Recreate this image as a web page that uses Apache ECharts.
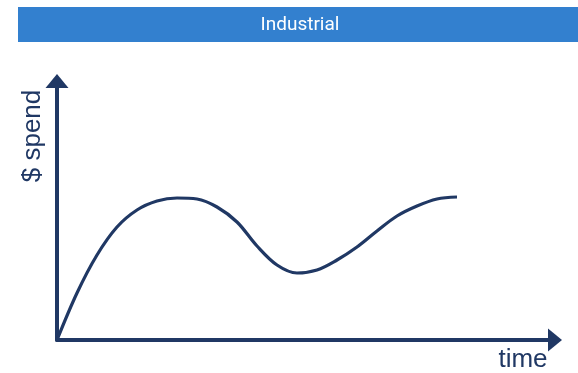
<!DOCTYPE html>
<html>
<head>
<meta charset="utf-8">
<script src="https://cdn.jsdelivr.net/npm/echarts@6/dist/echarts.min.js"></script>
<style>
  html, body { margin: 0; padding: 0; background: #fff; }
  #chart { width: 578px; height: 373px; }
</style>
</head>
<body>
<div id="chart"></div>
<script>
// Spend over time for the Industrial segment (illustrative curve)
const chartTitle = 'Industrial';
const xAxisName = 'time';
const yAxisName = '$ spend';
const timeValues = [0, 20, 40, 60, 80, 100, 120, 140, 160, 180, 200, 220, 240, 260, 280, 300, 320, 340, 360, 380, 400];
const spendValues = [0, 47, 85, 113, 130, 139, 142, 141, 133, 118, 94, 75, 67, 70, 80, 93, 109, 124, 134, 141, 143];

const navy = '#203864';
const chart = echarts.init(document.getElementById('chart'), null, { renderer: 'canvas' });

chart.setOption({
  animation: false,
  grid: { left: 57, right: 23, top: 81, bottom: 33, containLabel: false },
  xAxis: {
    type: 'value', min: 0, max: 498,
    axisLine: { show: true, lineStyle: { color: navy, width: 4 },
      symbol: ['none', 'triangle'], symbolSize: [23, 14] },
    axisTick: { show: false }, axisLabel: { show: false }, splitLine: { show: false }
  },
  yAxis: {
    type: 'value', min: 0, max: 259,
    axisLine: { show: true, lineStyle: { color: navy, width: 4 },
      symbol: ['none', 'triangle'], symbolSize: [23, 14] },
    axisTick: { show: false }, axisLabel: { show: false }, splitLine: { show: false }
  },
  series: [{
    type: 'line',
    data: timeValues.map((t, i) => [t, spendValues[i]]),
    smooth: 0.35,
    showSymbol: false,
    lineStyle: { color: navy, width: 3.2 }
  }],
  graphic: [
    { type: 'rect', left: 18, top: 7, shape: { width: 560, height: 35 }, style: { fill: '#3380CF' } },
    { type: 'text', x: 300, y: 25, style: { text: chartTitle, fill: '#fff', font: '19px Roboto, "Liberation Sans", sans-serif', align: 'center', verticalAlign: 'middle' } },
    { type: 'text', x: 33, y: 136, rotation: Math.PI / 2, style: { text: yAxisName, fill: navy, font: '26px "Liberation Sans", Arial, sans-serif', align: 'center', verticalAlign: 'middle' } },
    { type: 'text', x: 523, y: 360, style: { text: xAxisName, fill: navy, font: '26px "Liberation Sans", Arial, sans-serif', align: 'center', verticalAlign: 'middle' } }
  ]
});
</script>
</body>
</html>
